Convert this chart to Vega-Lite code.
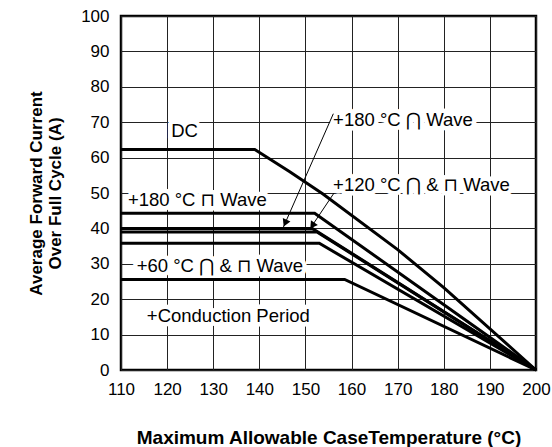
{
  "$schema": "https://vega.github.io/schema/vega-lite/v6.json",
  "width": 415,
  "height": 354,
  "autosize": "none",
  "padding": {"left": 121, "top": 16, "right": 16, "bottom": 77},
  "background": "white",
  "datasets": {
    "curves": [
      {"series": "DC", "x": 110, "y": 62.3},
      {"series": "DC", "x": 139, "y": 62.3},
      {"series": "DC", "x": 146.6, "y": 56},
      {"series": "DC", "x": 153.8, "y": 49.7},
      {"series": "DC", "x": 170, "y": 34},
      {"series": "DC", "x": 180, "y": 23.3},
      {"series": "DC", "x": 200, "y": 0},
      {"series": "180 square", "x": 110, "y": 44.3},
      {"series": "180 square", "x": 152, "y": 44.3},
      {"series": "180 square", "x": 200, "y": 0},
      {"series": "180 sine", "x": 110, "y": 40},
      {"series": "180 sine", "x": 151.5, "y": 40},
      {"series": "180 sine", "x": 200, "y": 0},
      {"series": "120", "x": 110, "y": 39},
      {"series": "120", "x": 152.5, "y": 39},
      {"series": "120", "x": 200, "y": 0},
      {"series": "120 b", "x": 110, "y": 35.8},
      {"series": "120 b", "x": 153, "y": 35.8},
      {"series": "120 b", "x": 200, "y": 0},
      {"series": "60", "x": 110, "y": 25.6},
      {"series": "60", "x": 158.5, "y": 25.6},
      {"series": "60", "x": 200, "y": 0}
    ],
    "labels": [
      {"text": "DC", "x": 120.9, "y": 67.6},
      {"text": "+180 °C ⊓ Wave", "x": 111.5, "y": 48},
      {"text": "+60 °C ⋂ & ⊓ Wave", "x": 113.4, "y": 29.4},
      {"text": "+180 °C ⋂ Wave", "x": 156, "y": 70.5},
      {"text": "+120 °C ⋂ & ⊓ Wave", "x": 156, "y": 52.2},
      {"text": "+Conduction Period", "x": 115.6, "y": 15.2}
    ],
    "arrows": [
      {"arrow": "180 sine", "x": 156.05, "y": 72.4, "x2": 145.2, "y2": 40.3},
      {"arrow": "120", "x": 156.2, "y": 50, "x2": 150.95, "y2": 39.8}
    ],
    "heads": [
      {"arrow": "180 sine", "x": 145.6, "y": 41.5},
      {"arrow": "120", "x": 151.5, "y": 40.8}
    ]
  },
  "encoding": {
    "x": {
      "field": "x",
      "type": "quantitative",
      "title": "Maximum Allowable CaseTemperature (°C)",
      "scale": {"domain": [110, 200], "nice": false, "zero": false},
      "axis": {
        "values": [110, 120, 130, 140, 150, 160, 170, 180, 190, 200],
        "labelPadding": 11,
        "titleY": 67,
        "titleBaseline": "middle",
        "titleFontSize": 19
      }
    },
    "y": {
      "field": "y",
      "type": "quantitative",
      "title": ["Average Forward Current", "Over Full Cycle (A)"],
      "scale": {"domain": [0, 100], "nice": false},
      "axis": {
        "values": [0, 10, 20, 30, 40, 50, 60, 70, 80, 90, 100],
        "labelPadding": 12,
        "titleX": -80,
        "titleY": 177,
        "titleAngle": 270,
        "titleAlign": "center",
        "titleBaseline": "alphabetic",
        "titleLineHeight": 19
      }
    }
  },
  "layer": [
    {
      "data": {"name": "labels"},
      "mark": {
        "type": "text",
        "align": "left",
        "baseline": "middle",
        "font": "Liberation Sans, DejaVu Sans",
        "fontSize": 18.5,
        "fill": "white",
        "stroke": "white",
        "strokeWidth": 9,
        "strokeJoin": "round"
      },
      "encoding": {"text": {"field": "text"}}
    },
    {
      "data": {"name": "curves"},
      "mark": {"type": "line", "color": "black", "strokeWidth": 3, "strokeJoin": "miter"},
      "encoding": {"detail": {"field": "series"}}
    },
    {
      "data": {"name": "arrows"},
      "mark": {"type": "rule", "color": "black", "strokeWidth": 1},
      "encoding": {"x2": {"field": "x2"}, "y2": {"field": "y2"}}
    },
    {
      "data": {"name": "heads"},
      "transform": [{"filter": "datum.arrow == '180 sine'"}],
      "mark": {"type": "point", "shape": "triangle-up", "filled": true, "fill": "black", "stroke": null, "size": 70, "opacity": 1},
      "encoding": {"angle": {"value": 204}}
    },
    {
      "data": {"name": "heads"},
      "transform": [{"filter": "datum.arrow == '120'"}],
      "mark": {"type": "point", "shape": "triangle-up", "filled": true, "fill": "black", "stroke": null, "size": 70, "opacity": 1},
      "encoding": {"angle": {"value": 214}}
    },
    {
      "data": {"name": "labels"},
      "mark": {
        "type": "text",
        "align": "left",
        "baseline": "middle",
        "font": "Liberation Sans, DejaVu Sans",
        "fontSize": 18.5,
        "color": "black"
      },
      "encoding": {"text": {"field": "text"}}
    }
  ],
  "config": {
    "view": {"stroke": "black", "strokeWidth": 2.5},
    "axis": {
      "grid": true,
      "gridColor": "#222222",
      "gridWidth": 1,
      "gridOpacity": 1,
      "domain": false,
      "ticks": false,
      "labelFlush": false,
      "labelOverlap": false,
      "labelFont": "Liberation Sans",
      "labelFontSize": 17,
      "labelColor": "black",
      "titleFont": "Liberation Sans",
      "titleFontSize": 17,
      "titleFontWeight": "bold",
      "titleColor": "black"
    }
  }
}
